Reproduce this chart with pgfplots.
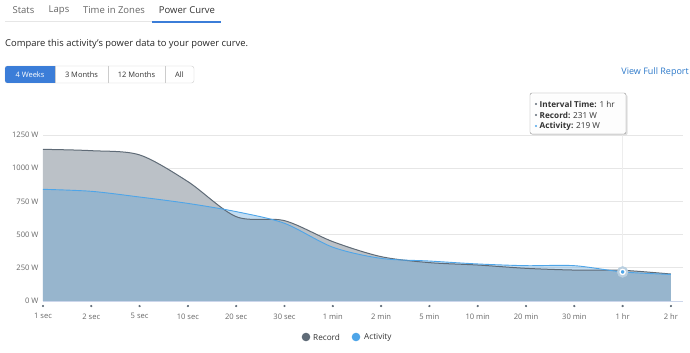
\documentclass[border=0pt]{standalone}
\usepackage{pgfplots}
\pgfplotsset{compat=1.18}
\usepackage{fontspec}
\setmainfont{Open Sans}
\definecolor{recline}{HTML}{5F6B77}
\definecolor{recfill}{HTML}{BBC1C7}
\definecolor{actline}{HTML}{4EA5E8}
\definecolor{actfill}{HTML}{59A1DA}
\definecolor{halo}{HTML}{B9CFE0}
\definecolor{gridc}{HTML}{E6E6E6}
\definecolor{axisc}{HTML}{CCD6EB}
\definecolor{txt}{HTML}{333333}
\definecolor{tabtxt}{HTML}{666666}
\definecolor{btnblue}{HTML}{3B7DD8}
\definecolor{linkblue}{HTML}{2B78C9}
\begin{document}
\begin{tikzpicture}[x=1pt,y=1pt]
\path[use as bounding box] (0,0) rectangle (690,353);
% tabs
\node[anchor=center,font=\fontsize{9.5}{11}\selectfont,text=tabtxt,inner sep=0] at (23.5,343) {Stats};
\node[anchor=center,font=\fontsize{9.5}{11}\selectfont,text=tabtxt,inner sep=0] at (59,343) {Laps};
\node[anchor=center,font=\fontsize{9.5}{11}\selectfont,text=tabtxt,inner sep=0] at (114,343) {Time in Zones};
\node[anchor=center,font=\fontsize{9.5}{11}\selectfont,text=txt,inner sep=0] at (187,343) {Power Curve};
\draw[gridc,line width=1] (5,331) -- (152,331);
\draw[btnblue,line width=1.5] (152,331) -- (221,331);
% description
\node[anchor=west,font=\fontsize{9.4}{11}\selectfont,text=black!85,inner sep=0] at (5,309) {Compare this activity's power data to your power curve.};
% buttons
\draw[black!20,rounded corners=2.5,fill=white] (5,270) rectangle (194,287);
\begin{scope}
\clip[rounded corners=2.5] (5,270) rectangle (194,287);
\fill[btnblue] (5,270) rectangle (55,287);
\end{scope}
\draw[black!20] (55,270) -- (55,287) (108,270) -- (108,287) (165,270) -- (165,287);
\node[font=\fontsize{7.5}{9}\selectfont,text=white,inner sep=0] at (30,278.5) {4 Weeks};
\node[font=\fontsize{7.5}{9}\selectfont,text=txt,inner sep=0] at (81.5,278.5) {3 Months};
\node[font=\fontsize{7.5}{9}\selectfont,text=txt,inner sep=0] at (136.5,278.5) {12 Months};
\node[font=\fontsize{7.5}{9}\selectfont,text=txt,inner sep=0] at (179.5,278.5) {All};
\node[anchor=east,font=\fontsize{9}{11}\selectfont,text=linkblue,inner sep=0] at (689,281) {View Full Report};
\begin{axis}[
  at={(43pt,52pt)}, anchor=south west,
  scale only axis, width=640pt, height=166pt,
  xmin=0, xmax=13.25, ymin=0, ymax=1250,
  clip=false,
  axis x line*=bottom, axis y line*=left,
  x axis line style={-,draw=axisc},
  y axis line style={draw=none},
  major tick length=0pt,
  ymajorgrids, grid style={gridc, line width=0.7pt},
  ytick={0,250,500,750,1000,1250},
  yticklabels={0 W,250 W,500 W,750 W,1000 W,1250 W},
  xtick={0,...,13},
  xticklabels={1 sec,2 sec,5 sec,10 sec,20 sec,30 sec,1 min,2 min,5 min,10 min,20 min,30 min,1 hr,2 hr},
  ticklabel style={font=\fontsize{7.6}{9}\selectfont, text=tabtxt},
  xticklabel style={yshift=-9pt},
  yticklabel style={xshift=-1pt},
  /pgf/number format/assume math mode=true,
]
\draw[gridc!70,line width=0.7pt] (axis cs:12,0) -- (axis cs:12,1255);
\addplot[smooth, tension=0.5, fill=recfill, draw=none] coordinates {
(0,1142) (1,1132) (2,1100) (3,899) (4,635) (5,605) (6,447) (7,334) (8,289) (9,271) (10,246) (11,233) (12,231) (13,203)} \closedcycle;
\addplot[smooth, tension=0.5, fill=actfill, fill opacity=0.36, draw=none] coordinates {
(0,841) (1,826) (2,783) (3,735) (4,673) (5,585) (6,405) (7,321) (8,301) (9,279) (10,266) (11,266) (12,219) (13,200)} \closedcycle;
\addplot[smooth, tension=0.5, recline, line width=1pt] coordinates {
(0,1142) (1,1132) (2,1100) (3,899) (4,635) (5,605) (6,447) (7,334) (8,289) (9,271) (10,246) (11,233) (12,231) (13,203)};
\addplot[smooth, tension=0.5, actline, line width=0.9pt] coordinates {
(0,841) (1,826) (2,783) (3,735) (4,673) (5,585) (6,405) (7,321) (8,301) (9,279) (10,266) (11,266) (12,219) (13,200)};
% tick dots
\addplot[only marks, mark=*, mark size=0.9pt, color=recline, mark options={fill=recline}] coordinates {
(0,-38) (1,-38) (2,-38) (3,-38) (4,-38) (5,-38) (6,-38) (7,-38) (8,-38) (9,-38) (10,-38) (11,-38) (12,-38) (13,-38)};
% hovered point
\addplot[only marks, mark=*, mark size=5.5pt, color=halo, mark options={fill=halo}] coordinates {(12,219)};
\addplot[only marks, mark=*, mark size=2.6pt, color=white, mark options={fill=actline, line width=1.3pt}] coordinates {(12,219)};
\end{axis}
% tooltip
\fill[black!12,rounded corners=2] (531.5,217.5) rectangle (627.5,258.5);
\draw[black!45,fill=white,fill opacity=0.95,rounded corners=2] (530,219) rectangle (626,260);
\begin{scope}[font=\fontsize{8.2}{9}\selectfont]
\fill[recline] (536,249) circle (1.2);
\node[anchor=west,inner sep=0,text=txt] at (539.5,249) {\textbf{Interval Time:} 1 hr};
\fill[recline] (536,238) circle (1.2);
\node[anchor=west,inner sep=0,text=txt] at (539.5,238) {\textbf{Record:} 231 W};
\fill[actline] (536,227) circle (1.2);
\node[anchor=west,inner sep=0,text=txt] at (539.5,227) {\textbf{Activity:} 219 W};
\end{scope}
% legend
\fill[recline] (306,16) circle (4.3);
\node[anchor=west,inner sep=0,font=\fontsize{8.2}{10}\selectfont,text=txt] at (313,16) {Record};
\fill[actline] (356,16) circle (4.3);
\node[anchor=west,inner sep=0,font=\fontsize{8.2}{10}\selectfont,text=txt] at (364,16) {Activity};
\end{tikzpicture}
\end{document}
